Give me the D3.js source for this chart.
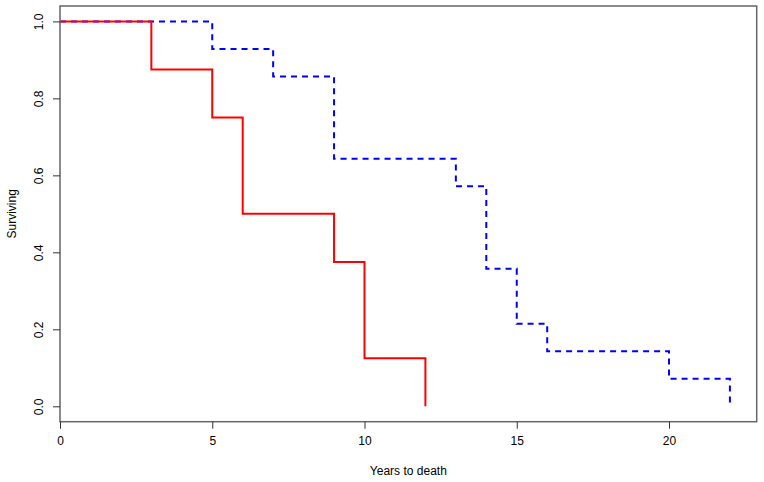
<!DOCTYPE html>
<html><head><meta charset="utf-8">
<script src="https://cdn.jsdelivr.net/npm/d3@7"></script>
<style>body{margin:0;background:#fff}svg{display:block}text{font-family:"Liberation Sans",Arial,sans-serif;font-size:12px;fill:#000}</style>
</head><body>
<script>
// Kaplan-Meier step data
const redTimes = [0, 3, 5, 6, 9, 10, 12];
const redSurv  = [1.0, 0.875, 0.75, 0.5, 0.375, 0.125, 0.0];
const blueTimes = [0, 5, 7, 9, 13, 14, 15, 16, 20, 22];
const blueSurv  = [1.0, 0.9286, 0.8571, 0.6429, 0.5714, 0.3571, 0.2143, 0.1429, 0.0714, 0.0];
const xTicks = [0, 5, 10, 15, 20];
const yTicks = [0.0, 0.2, 0.4, 0.6, 0.8, 1.0];
const xLabel = "Years to death";
const yLabel = "Surviving";

const W = 764, H = 482;
const L = 60, R = 756.7, T = 6, B = 421.7;
const svg = d3.select("body").append("svg").attr("width", W).attr("height", H);
const x = d3.scaleLinear().domain([0, 22.88]).range([L, R]);
const y = d3.scaleLinear().domain([-0.04, 1.04]).range([B, T]);

function steps(ts, ss) {
  const pts = [];
  for (let i = 0; i < ts.length; i++) {
    if (i > 0) pts.push([ts[i], ss[i - 1]]);
    pts.push([ts[i], ss[i]]);
  }
  return pts;
}
const line = d3.line().x(d => x(d[0])).y(d => y(d[1]));

svg.append("path").datum(steps(blueTimes, blueSurv)).attr("d", line)
  .attr("fill", "none").attr("stroke", "#0000ff").attr("stroke-width", 2)
  .attr("stroke-dasharray", "6,5");
svg.append("path").datum(steps(redTimes, redSurv)).attr("d", line)
  .attr("fill", "none").attr("stroke", "#ff0000").attr("stroke-width", 2);

// box
svg.append("rect").attr("x", L).attr("y", T).attr("width", R - L).attr("height", B - T)
  .attr("fill", "none").attr("stroke", "#666").attr("stroke-width", 1.5);

// axes
const xAxis = d3.axisBottom(x).tickValues(xTicks).tickSize(7).tickPadding(8).tickFormat(d3.format("d"));
const gx = svg.append("g").attr("transform", `translate(0,${B})`).call(xAxis);
gx.select(".domain").remove();
gx.selectAll("line").attr("stroke", "#333");
gx.selectAll("text").attr("font-size", 12).attr("font-family", "Liberation Sans, Arial, sans-serif");

const yAxis = d3.axisLeft(y).tickValues(yTicks).tickSize(7).tickFormat(d3.format(".1f"));
const gy = svg.append("g").attr("transform", `translate(${L},0)`).call(yAxis);
gy.select(".domain").remove();
gy.selectAll("line").attr("stroke", "#333");
gy.selectAll("text").attr("font-size", 12).attr("font-family", "Liberation Sans, Arial, sans-serif")
  .attr("x", null).attr("dy", null)
  .attr("text-anchor", "middle")
  .attr("transform", "translate(-17,0) rotate(-90)");

svg.append("text").attr("x", (L + R) / 2).attr("y", 475).attr("text-anchor", "middle").text(xLabel);
svg.append("text").attr("transform", `translate(16,${(T + B) / 2}) rotate(-90)`)
  .attr("text-anchor", "middle").text(yLabel);
</script>
</body></html>
